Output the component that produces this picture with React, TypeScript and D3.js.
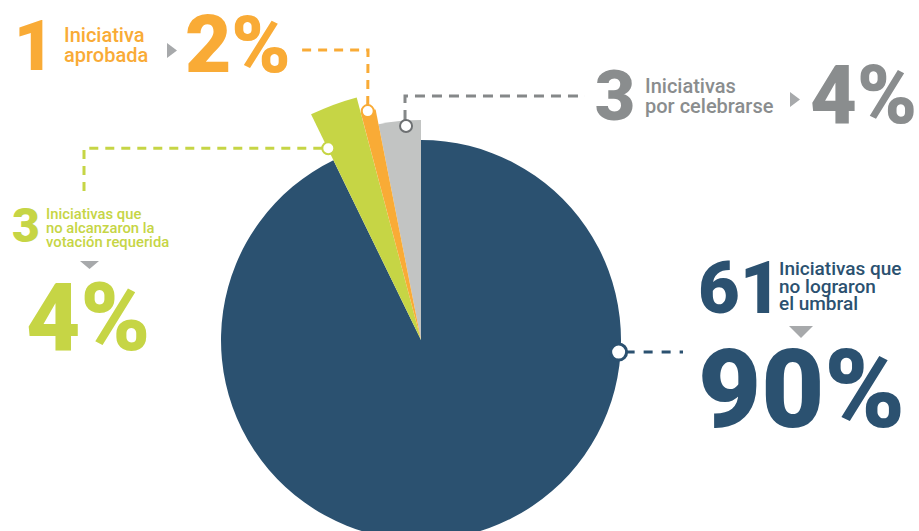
import React from "react";
import * as d3 from "d3";

const categories = ["no lograron el umbral", "no alcanzaron la votación requerida", "aprobada", "por celebrarse"];
const counts = [61, 3, 1, 3];
const percents = ["90%", "4%", "2%", "4%"];
// slice sizes as drawn in the original graphic (90 for the main slice, counts for the others)
const pieValues = [90, 3, 1, 3];
const sliceColors = ["#2b5170", "#c6d545", "#f9ab36", "#c2c4c3"];
const labelColors = ["#2b5170", "#c6d545", "#f9ab36", "#8a8d8e"];

const W = 919, H = 531;
const CX = 421, CY = 340;
const radii = [200, 251, 235, 220];
const markerAngles = [93.5, 334.2, 346.9, 356]; // degrees, clockwise from top
const markerRadii = [198, 213, 235, 214.5];

const FONT = "Roboto, 'Open Sans', sans-serif";
const TRI = "#a7a9ab";

export default function App() {
  const pie = d3.pie<number>().sort(null).value((d) => d);
  const arcs = pie(pieValues);
  const drawOrder = [0, 1, 3, 2];
  const mk = (i: number) => {
    const a = (markerAngles[i] * Math.PI) / 180;
    return [CX + markerRadii[i] * Math.sin(a), CY - markerRadii[i] * Math.cos(a)];
  };
  const [bx, by] = mk(0);
  const [gx, gy] = mk(1);
  const [ox, oy] = mk(2);
  const [yx, yy] = mk(3);

  const line = (pts: number[][], color: string, dash: string) => (
    <path d={d3.line()(pts as [number, number][]) || ""} fill="none" stroke={color} strokeWidth={3} strokeDasharray={dash} />
  );

  return (
    <svg width={W} height={H} style={{ position: "absolute", left: 0, top: 0, background: "#fff" }} fontFamily={FONT}>
      <g transform={`translate(${CX},${CY})`}>
        {drawOrder.map((i) => {
          const path = d3.arc<d3.PieArcDatum<number>>().innerRadius(0).outerRadius(radii[i])(arcs[i]) || "";
          return <path key={i} d={path} fill={sliceColors[i]} />;
        })}
      </g>

      {/* leader lines */}
      {line([[bx + 7, by], [683, by]], labelColors[0], "9 9")}
      {line([[gx - 6, gy], [84, gy], [84, 192]], labelColors[1], "9 7")}
      {line([[ox, oy - 6], [368, 50], [298, 50]], labelColors[2], "9 7")}
      {line([[yx - 1, yy - 6], [405, 96], [585, 96]], "#858889", "10 7")}

      {/* markers */}
      {[[bx, by, 0], [gx, gy, 1], [ox, oy, 2], [yx, yy, 3]].map(([x, y, i]) => (
        <circle key={i} cx={x} cy={y} r={i === 0 ? 8 : 6} fill="#fff" stroke={i === 3 ? "#6d7072" : sliceColors[i]} strokeWidth={i === 0 ? 3 : 2} />
      ))}

      {/* orange label: aprobada */}
      <g fill={labelColors[2]}>
        <text x={34} y={70} fontSize={70} fontWeight={900} textAnchor="middle">{counts[2]}</text>
        <text x={64} y={42} fontSize={20} fontWeight={500}>Iniciativa</text>
        <text x={64} y={62} fontSize={20} fontWeight={500}>{categories[2]}</text>
        <text x={185} y={72} fontSize={80} fontWeight={900}>{percents[2]}</text>
      </g>
      <polygon points="167,43 177,50.5 167,58" fill={TRI} />

      {/* gray label: por celebrarse */}
      <g fill={labelColors[3]}>
        <text x={615} y={120} fontSize={70} fontWeight={900} textAnchor="middle">{counts[3]}</text>
        <text x={645} y={93} fontSize={20} fontWeight={500}>Iniciativas</text>
        <text x={645} y={113} fontSize={20} fontWeight={500}>{categories[3]}</text>
        <text x={810} y={123} fontSize={81} fontWeight={900}>{percents[3]}</text>
      </g>
      <polygon points="790,92 800,99.5 790,107" fill={TRI} />

      {/* green label */}
      <g fill={labelColors[1]}>
        <text x={26} y={242} fontSize={48} fontWeight={900} textAnchor="middle">{counts[1]}</text>
        <text x={46} y={219} fontSize={14.8} fontWeight={500}>Iniciativas que</text>
        <text x={46} y={233} fontSize={14.8} fontWeight={500}>no alcanzaron la</text>
        <text x={46} y={247} fontSize={14.8} fontWeight={500}>votación requerida</text>
        <text x={26} y={350} fontSize={94} fontWeight={900}>{percents[1]}</text>
      </g>
      <polygon points="80,261 99,261 89.5,269" fill={TRI} />

      {/* blue label */}
      <g fill={labelColors[0]}>
        <text x={698} y={313} fontSize={72} fontWeight={900}>{counts[0]}</text>
        <text x={779} y={275} fontSize={19} fontWeight={500}>Iniciativas que</text>
        <text x={779} y={293} fontSize={19} fontWeight={500}>no lograron</text>
        <text x={779} y={310} fontSize={19} fontWeight={500}>el umbral</text>
        <text x={698} y={427} fontSize={109} fontWeight={900}>{percents[0]}</text>
      </g>
      <polygon points="789,326 813,326 801,338" fill={TRI} />
    </svg>
  );
}
